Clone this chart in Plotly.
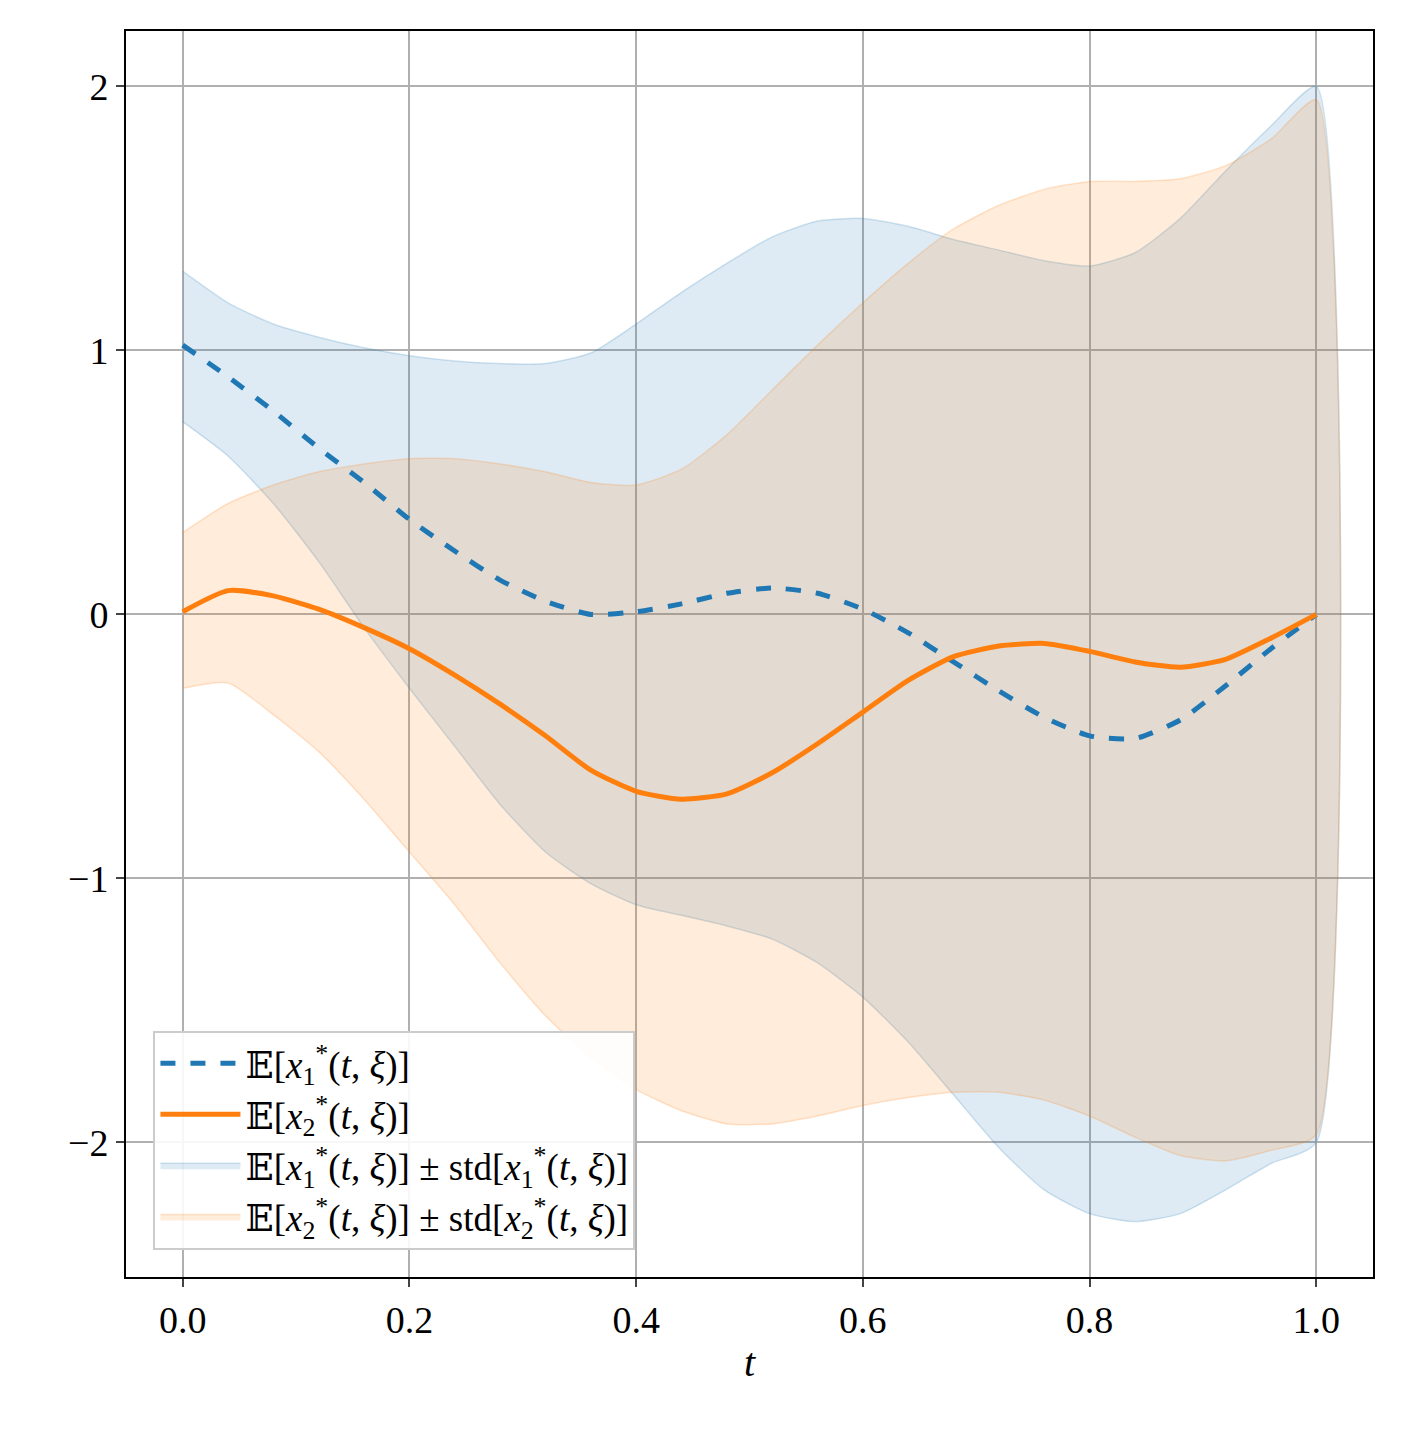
import plotly.graph_objects as go

t = [0.0, 0.04, 0.08, 0.12, 0.16, 0.2, 0.24, 0.28, 0.32, 0.36, 0.4, 0.44, 0.48,
     0.52, 0.56, 0.6, 0.64, 0.68, 0.72, 0.76, 0.8, 0.84, 0.88, 0.92, 0.96, 1.0]

x1_mean = [1.02, 0.9, 0.77, 0.63, 0.5, 0.36, 0.24, 0.13, 0.05, 0.0, 0.01, 0.04, 0.08,
           0.1, 0.08, 0.02, -0.07, -0.18, -0.29, -0.39, -0.46, -0.47, -0.4, -0.27, -0.13, 0.0]
x2_mean = [0.01, 0.09, 0.07, 0.02, -0.05, -0.13, -0.23, -0.34, -0.46, -0.59, -0.67, -0.7, -0.68,
           -0.6, -0.49, -0.37, -0.25, -0.16, -0.12, -0.11, -0.14, -0.18, -0.2, -0.17, -0.09, 0.0]

x1_upper = [1.3, 1.18, 1.1, 1.05, 1.01, 0.98, 0.96, 0.95, 0.95, 0.99, 1.1, 1.22, 1.33,
            1.43, 1.49, 1.5, 1.47, 1.42, 1.38, 1.34, 1.32, 1.37, 1.5, 1.68, 1.85, 2.0]
x1_lower = [0.73, 0.6, 0.42, 0.2, -0.05, -0.28, -0.5, -0.72, -0.9, -1.02, -1.1, -1.14, -1.18,
            -1.23, -1.32, -1.45, -1.62, -1.82, -2.02, -2.18, -2.27, -2.3, -2.27, -2.18, -2.08, -2.0]
x2_upper = [0.31, 0.42, 0.49, 0.54, 0.57, 0.59, 0.59, 0.57, 0.54, 0.5, 0.49, 0.55, 0.68,
            0.85, 1.02, 1.18, 1.33, 1.46, 1.55, 1.61, 1.64, 1.64, 1.65, 1.7, 1.8, 1.95]
x2_lower = [-0.28, -0.26, -0.38, -0.52, -0.7, -0.9, -1.1, -1.32, -1.52, -1.68, -1.8, -1.88, -1.93,
            -1.93, -1.9, -1.86, -1.83, -1.81, -1.81, -1.84, -1.9, -1.98, -2.05, -2.07, -2.03, -1.97]

blue = "#1f77b4"
orange = "#ff7f0e"
E1 = "𝔼[<i>x</i><sub>1</sub><sup>*</sup>(<i>t</i>, <i>ξ</i>)]"
E2 = "𝔼[<i>x</i><sub>2</sub><sup>*</sup>(<i>t</i>, <i>ξ</i>)]"
S1 = "std[<i>x</i><sub>1</sub><sup>*</sup>(<i>t</i>, <i>ξ</i>)]"
S2 = "std[<i>x</i><sub>2</sub><sup>*</sup>(<i>t</i>, <i>ξ</i>)]"

fig = go.Figure()
# bands first so lines sit on top
fig.add_trace(go.Scatter(x=t + t[::-1], y=x1_upper + x1_lower[::-1], fill="toself",
                         fillcolor="rgba(31,119,180,0.15)",
                         line=dict(color="rgba(31,119,180,0.2)", width=1.5, shape="spline", smoothing=0.6),
                         name=E1 + " ± " + S1, legendrank=3))
fig.add_trace(go.Scatter(x=t + t[::-1], y=x2_upper + x2_lower[::-1], fill="toself",
                         fillcolor="rgba(255,127,14,0.15)",
                         line=dict(color="rgba(255,127,14,0.2)", width=1.5, shape="spline", smoothing=0.6),
                         name=E2 + " ± " + S2, legendrank=4))
fig.add_trace(go.Scatter(x=t, y=x1_mean, mode="lines",
                         line=dict(color=blue, width=5, dash="dash", shape="spline", smoothing=0.6),
                         name=E1, legendrank=1))
fig.add_trace(go.Scatter(x=t, y=x2_mean, mode="lines",
                         line=dict(color=orange, width=5, shape="spline", smoothing=0.6),
                         name=E2, legendrank=2))

axis_common = dict(showgrid=True, gridcolor="#b0b0b0", gridwidth=1.5, zeroline=False,
                   showline=True, linecolor="black", linewidth=2, mirror=True,
                   ticks="outside", ticklen=8, tickwidth=1.5, tickfont=dict(size=38))
fig.update_xaxes(range=[-0.05, 1.05], tickvals=[0, 0.2, 0.4, 0.6, 0.8, 1.0],
                 ticktext=["0.0", "0.2", "0.4", "0.6", "0.8", "1.0"],
                 title=dict(text="<i>t</i>", font=dict(size=40), standoff=8), **axis_common)
fig.update_yaxes(range=[-2.51, 2.21], tickvals=[-2, -1, 0, 1, 2],
                 ticktext=["−2", "−1", "0", "1", "2"], **axis_common)

fig.update_layout(
    width=1405, height=1448,
    margin=dict(l=118, r=40, t=23, b=179),
    plot_bgcolor="white", paper_bgcolor="white",
    font=dict(family="Liberation Serif, DejaVu Serif, serif", color="black", size=36),
    legend=dict(x=0.022, y=0.022, xanchor="left", yanchor="bottom",
                bgcolor="rgba(255,255,255,0.9)", bordercolor="#cccccc", borderwidth=2,
                itemwidth=80, font=dict(size=37)),
)

fig.write_html("out.html")
